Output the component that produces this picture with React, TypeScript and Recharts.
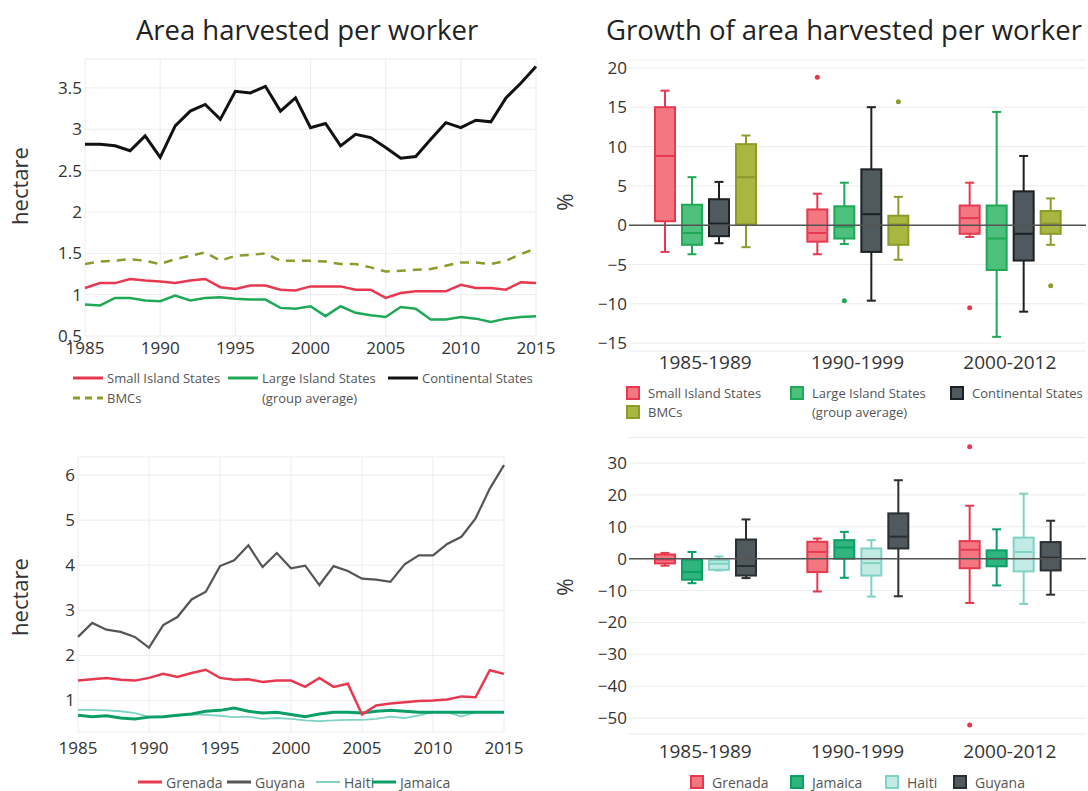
import {
  Bar,
  CartesianGrid,
  ComposedChart,
  Line,
  LineChart,
  ReferenceLine,
  XAxis,
  YAxis,
} from "recharts";

const FONT = "'Open Sans', 'Noto Sans', sans-serif";

// ---- yearly series (hectare per worker) ----
const years = [
  1985, 1986, 1987, 1988, 1989, 1990, 1991, 1992, 1993, 1994, 1995, 1996, 1997, 1998, 1999, 2000,
  2001, 2002, 2003, 2004, 2005, 2006, 2007, 2008, 2009, 2010, 2011, 2012, 2013, 2014, 2015,
];
const yearTicks = [1985, 1990, 1995, 2000, 2005, 2010, 2015];

const smallIsland = [
  1.08, 1.14, 1.14, 1.19, 1.17, 1.16, 1.14, 1.17, 1.19, 1.09, 1.07, 1.11, 1.11, 1.06, 1.05, 1.1,
  1.1, 1.1, 1.06, 1.06, 0.96, 1.02, 1.04, 1.04, 1.04, 1.12, 1.08, 1.08, 1.06, 1.15, 1.14,
];
const largeIsland = [
  0.88, 0.87, 0.96, 0.96, 0.93, 0.92, 0.99, 0.93, 0.96, 0.97, 0.95, 0.94, 0.94, 0.84, 0.83, 0.86,
  0.74, 0.86, 0.78, 0.75, 0.73, 0.85, 0.83, 0.7, 0.7, 0.73, 0.71, 0.67, 0.71, 0.73, 0.74,
];
const continental = [
  2.82, 2.82, 2.8, 2.74, 2.92, 2.66, 3.04, 3.22, 3.3, 3.12, 3.46, 3.44, 3.52, 3.22, 3.38, 3.02,
  3.07, 2.8, 2.94, 2.9, 2.78, 2.65, 2.67, 2.88, 3.08, 3.02, 3.11, 3.09, 3.38, 3.56, 3.76,
];
const bmcs = [
  1.37, 1.4, 1.41, 1.43, 1.41, 1.37, 1.43, 1.47, 1.51, 1.41, 1.47, 1.48, 1.5, 1.41, 1.41, 1.41,
  1.4, 1.37, 1.37, 1.33, 1.28, 1.29, 1.3, 1.31, 1.35, 1.39, 1.39, 1.37, 1.41, 1.49, 1.56,
];

const grenada = [
  1.44, 1.47, 1.5, 1.46, 1.44, 1.5, 1.59, 1.52, 1.61, 1.68, 1.5, 1.46, 1.47, 1.41, 1.44, 1.44,
  1.3, 1.5, 1.3, 1.37, 0.69, 0.89, 0.93, 0.96, 0.99, 1.0, 1.02, 1.09, 1.07, 1.67, 1.59,
];
const guyana = [
  2.41, 2.72, 2.57, 2.52, 2.41, 2.17, 2.67, 2.85, 3.24, 3.41, 3.98, 4.11, 4.44, 3.96, 4.27, 3.93,
  3.99, 3.56, 3.98, 3.87, 3.7, 3.68, 3.63, 4.02, 4.22, 4.22, 4.47, 4.63, 5.04, 5.7, 6.22,
];
const haiti = [
  0.79, 0.79, 0.78, 0.76, 0.72, 0.64, 0.64, 0.67, 0.69, 0.68, 0.66, 0.63, 0.64, 0.59, 0.61, 0.59,
  0.56, 0.54, 0.56, 0.57, 0.57, 0.59, 0.64, 0.61, 0.67, 0.74, 0.74, 0.64, 0.74, 0.74, 0.74,
];
const jamaica = [
  0.67, 0.64, 0.66, 0.61, 0.59, 0.63, 0.64, 0.67, 0.7, 0.76, 0.78, 0.83, 0.76, 0.72, 0.74, 0.69,
  0.64, 0.7, 0.74, 0.74, 0.72, 0.76, 0.78, 0.76, 0.74, 0.74, 0.74, 0.74, 0.74, 0.74, 0.74,
];

// ---- growth boxes: [min, q1, median, q3, max] per period ----
const periods = ["1985-1989", "1990-1999", "2000-2012"];

const smallIslandGrowth = [
  [-3.4, 0.5, 8.8, 15.0, 17.1],
  [-3.7, -2.1, -1.0, 2.0, 4.0],
  [-1.5, -1.1, 0.9, 2.5, 5.4],
];
const smallIslandOutliers = [[], [18.8], [-10.5]];
const largeIslandGrowth = [
  [-3.7, -2.5, -1.0, 2.6, 6.1],
  [-2.4, -1.7, -0.2, 2.4, 5.4],
  [-14.2, -5.7, -1.7, 2.5, 14.4],
];
const largeIslandOutliers = [[], [-9.6], []];
const continentalGrowth = [
  [-2.3, -1.4, 0.2, 3.3, 5.5],
  [-9.6, -3.4, 1.4, 7.1, 15.0],
  [-11.0, -4.5, -1.1, 4.3, 8.8],
];
const continentalOutliers = [[], [], []];
const bmcGrowth = [
  [-2.8, 0.1, 6.1, 10.3, 11.4],
  [-4.4, -2.5, 0.1, 1.2, 3.6],
  [-2.5, -1.1, 0.2, 1.8, 3.4],
];
const bmcOutliers = [[], [15.7], [-7.7]];

const grenadaGrowth = [
  [-2.2, -1.5, -0.3, 1.3, 1.8],
  [-10.3, -4.2, 2.1, 5.3, 6.3],
  [-13.9, -3.0, 2.8, 5.5, 16.6],
];
const grenadaOutliers = [[], [], [35.1, -52.2]];
const jamaicaGrowth = [
  [-7.7, -6.6, -4.2, -0.3, 2.1],
  [-6.0, 0, 3.5, 5.8, 8.4],
  [-8.4, -2.4, 0, 2.6, 9.2],
];
const haitiGrowth = [
  [-3.7, -3.5, -1.6, -0.5, 0.7],
  [-11.9, -5.3, -1.4, 3.2, 5.8],
  [-14.2, -4.0, 2.1, 6.6, 20.4],
];
const guyanaGrowth = [
  [-6.1, -5.3, -2.3, 6.0, 12.3],
  [-11.8, 3.2, 6.9, 14.2, 24.6],
  [-11.3, -3.7, 0.3, 5.2, 11.9],
];
const noOutliers = [[], [], []];

// colours
const RED = "#e8384f";
const RED_FILL = "#f27780";
const GREEN = "#1fa856";
const GREEN_FILL = "#4cc07c";
const BLACK = "#111111";
const SLATE_FILL = "#4f595e";
const OLIVE = "#8d9b2c";
const OLIVE_FILL = "#a9b640";
const JAM = "#0b9e66";
const JAM_FILL = "#2fb57d";
const HAITI = "#7fd3c5";
const HAITI_FILL = "#c3ebe4";
const GUYANA = "#555555";

const regionRows = years.map((year, i) => ({
  year,
  small: smallIsland[i],
  large: largeIsland[i],
  continental: continental[i],
  bmcs: bmcs[i],
}));

const countryRows = years.map((year, i) => ({
  year,
  grenada: grenada[i],
  guyana: guyana[i],
  haiti: haiti[i],
  jamaica: jamaica[i],
}));

const regionGrowthRows = periods.map((period, i) => ({
  period,
  a: smallIslandGrowth[i],
  aOut: smallIslandOutliers[i],
  b: largeIslandGrowth[i],
  bOut: largeIslandOutliers[i],
  c: continentalGrowth[i],
  cOut: continentalOutliers[i],
  d: bmcGrowth[i],
  dOut: bmcOutliers[i],
}));

const countryGrowthRows = periods.map((period, i) => ({
  period,
  a: grenadaGrowth[i],
  aOut: grenadaOutliers[i],
  b: jamaicaGrowth[i],
  bOut: noOutliers[i],
  c: haitiGrowth[i],
  cOut: noOutliers[i],
  d: guyanaGrowth[i],
  dOut: noOutliers[i],
}));

const tickStyle = { fontSize: 17, fill: "#333", fontFamily: FONT };
const periodTick = { fontSize: 19, fill: "#333", fontFamily: FONT };
const minusFmt = (v: number) => (v < 0 ? `\u2212${Math.abs(v)}` : `${v}`);

// box drawn inside the [min, max] range bar that recharts lays out
const BoxShape = (props: any) => {
  const { x, y, width, height, box, outliers, fill, stroke } = props;
  const [min, q1, med, q3, max] = box;
  const top = Math.min(y, y + height);
  const bottom = Math.max(y, y + height);
  const py = (v: number) => top + ((max - v) / (max - min)) * (bottom - top);
  const cx = x + width / 2;
  const cap = width * 0.45;
  return (
    <g>
      <line x1={cx} x2={cx} y1={py(max)} y2={py(q3)} stroke={stroke} strokeWidth={2} />
      <line x1={cx} x2={cx} y1={py(q1)} y2={py(min)} stroke={stroke} strokeWidth={2} />
      <line x1={cx - cap / 2} x2={cx + cap / 2} y1={py(max)} y2={py(max)} stroke={stroke} strokeWidth={2} />
      <line x1={cx - cap / 2} x2={cx + cap / 2} y1={py(min)} y2={py(min)} stroke={stroke} strokeWidth={2} />
      <rect x={x} y={py(q3)} width={width} height={py(q1) - py(q3)} fill={fill} stroke={stroke} strokeWidth={2} />
      <line x1={x + 1} x2={x + width - 1} y1={py(med)} y2={py(med)} stroke={stroke} strokeWidth={2} />
      {outliers.map((o: number, i: number) => (
        <circle key={i} cx={cx} cy={py(o)} r={2.5} fill={stroke} />
      ))}
    </g>
  );
};

const boxBar = (key: string, fill: string, stroke: string) => (
  <Bar
    key={key}
    dataKey={(r: any) => [r[key][0], r[key][4]]}
    isAnimationActive={false}
    shape={(p: any) => (
      <BoxShape {...p} box={p.payload[key]} outliers={p.payload[key + "Out"]} fill={fill} stroke={stroke} />
    )}
  />
);

const LineKey = ({ left, top, color, width = 3, dash, label, len = 30, size = 13 }: any) => (
  <div style={{ position: "absolute", left, top: top - 10, height: 20, display: "flex", alignItems: "center", whiteSpace: "nowrap" }}>
    <svg width={len} height={6}>
      <line x1={0} x2={len} y1={3} y2={3} stroke={color} strokeWidth={width} strokeDasharray={dash} />
    </svg>
    <span style={{ marginLeft: 4, fontSize: size, color: "#555" }}>{label}</span>
  </div>
);

const BoxKey = ({ left, top, color, fill, label, size = 13 }: any) => (
  <div style={{ position: "absolute", left, top: top - 10, height: 20, display: "flex", alignItems: "center", whiteSpace: "nowrap" }}>
    <svg width={14} height={14}>
      <rect x={1} y={1} width={12} height={12} fill={fill} stroke={color} strokeWidth={2} />
    </svg>
    <span style={{ marginLeft: 8, fontSize: size, color: "#555" }}>{label}</span>
  </div>
);

const SubLabel = ({ left, top, label }: any) => (
  <div style={{ position: "absolute", left, top: top - 10, height: 20, lineHeight: "20px", fontSize: 13, color: "#555", whiteSpace: "nowrap" }}>
    {label}
  </div>
);

const AxisTitle = ({ x, y, text, size }: any) => (
  <div
    style={{
      position: "absolute",
      left: x - 60,
      top: y - 15,
      width: 120,
      height: 30,
      lineHeight: "30px",
      textAlign: "center",
      fontSize: size,
      color: "#333",
      transform: "rotate(-90deg)",
    }}
  >
    {text}
  </div>
);

const Title = ({ cx, text }: any) => (
  <div
    style={{
      position: "absolute",
      left: cx - 300,
      top: 12,
      width: 600,
      textAlign: "center",
      fontSize: 27.5,
      color: "#222",
      lineHeight: "36px",
      whiteSpace: "nowrap",
    }}
  >
    {text}
  </div>
);

export default function App() {
  return (
    <div
      style={{
        position: "absolute",
        left: 0,
        top: 0,
        width: 1088,
        height: 791,
        overflow: "hidden",
        background: "#fff",
        fontFamily: FONT,
      }}
    >
      <Title cx={307} text="Area harvested per worker" />
      <Title cx={844} text="Growth of area harvested per worker" />

      {/* top left: regional averages */}
      <div style={{ position: "absolute", left: 0, top: 0 }}>
        <LineChart width={560} height={370} data={regionRows} margin={{ top: 59, right: 24, bottom: 4, left: 35 }}>
          <CartesianGrid stroke="#ececec" strokeWidth={1} />
          <XAxis
            dataKey="year"
            type="number"
            domain={[1985, 2015]}
            ticks={yearTicks}
            axisLine={false}
            tickLine={false}
            tickSize={0}
            tickMargin={6}
            height={30}
            tick={tickStyle}
          />
          <YAxis
            type="number"
            domain={[0.5, 3.85]}
            ticks={[0.5, 1, 1.5, 2, 2.5, 3, 3.5]}
            axisLine={false}
            tickLine={false}
            tickSize={0}
            tickMargin={3}
            width={50}
            tick={tickStyle}
          />
          <Line dataKey="small" stroke={RED} strokeWidth={2.5} dot={false} isAnimationActive={false} />
          <Line dataKey="large" stroke={GREEN} strokeWidth={2.5} dot={false} isAnimationActive={false} />
          <Line dataKey="bmcs" stroke={OLIVE} strokeWidth={2.5} strokeDasharray="9 7" dot={false} isAnimationActive={false} />
          <Line dataKey="continental" stroke={BLACK} strokeWidth={3} dot={false} isAnimationActive={false} />
        </LineChart>
      </div>
      <AxisTitle x={19} y={186} text="hectare" size={22} />
      <LineKey left={73} top={378} color={RED} label="Small Island States" />
      <LineKey left={228} top={378} color={GREEN} label="Large Island States" />
      <SubLabel left={262} top={398} label="(group average)" />
      <LineKey left={388} top={378} color={BLACK} label="Continental States" />
      <LineKey left={73} top={398} color={OLIVE} dash="7 5" label="BMCs" />

      {/* bottom left: countries */}
      <div style={{ position: "absolute", left: 0, top: 420 }}>
        <LineChart width={530} height={371} data={countryRows} margin={{ top: 37, right: 26, bottom: 29, left: 28 }}>
          <CartesianGrid stroke="#ececec" strokeWidth={1} />
          <XAxis
            dataKey="year"
            type="number"
            domain={[1985, 2015]}
            ticks={yearTicks}
            axisLine={false}
            tickLine={false}
            tickSize={0}
            tickMargin={10}
            height={30}
            tick={tickStyle}
          />
          <YAxis
            type="number"
            domain={[0.3, 6.4]}
            ticks={[1, 2, 3, 4, 5, 6]}
            axisLine={false}
            tickLine={false}
            tickSize={0}
            tickMargin={3}
            width={50}
            tick={tickStyle}
          />
          <Line dataKey="haiti" stroke={HAITI} strokeWidth={1.8} dot={false} isAnimationActive={false} />
          <Line dataKey="jamaica" stroke={JAM} strokeWidth={3} dot={false} isAnimationActive={false} />
          <Line dataKey="grenada" stroke={RED} strokeWidth={2.5} dot={false} isAnimationActive={false} />
          <Line dataKey="guyana" stroke={GUYANA} strokeWidth={2.2} dot={false} isAnimationActive={false} />
        </LineChart>
      </div>
      <AxisTitle x={19} y={597} text="hectare" size={22} />
      <LineKey left={138} top={782} color={RED} len={24} size={14} label="Grenada" />
      <LineKey left={227} top={782} color={GUYANA} len={24} size={14} label="Guyana" />
      <LineKey left={316} top={782} color={HAITI} width={2} len={24} size={14} label="Haiti" />
      <LineKey left={372} top={782} color={JAM} len={24} size={14} label="Jamaica" />

      {/* top right: regional growth */}
      <div style={{ position: "absolute", left: 560, top: 0 }}>
        <ComposedChart
          width={528}
          height={380}
          data={regionGrowthRows}
          barSize={20}
          barGap={7}
          margin={{ top: 60, right: 2, bottom: 4, left: 9 }}
        >
          <CartesianGrid stroke="#ececec" vertical={false} />
          <XAxis
            dataKey="period"
            axisLine={false}
            tickLine={false}
            tickSize={0}
            tickMargin={5}
            height={25}
            tick={periodTick}
          />
          <YAxis
            type="number"
            domain={[-16, 21]}
            ticks={[-15, -10, -5, 0, 5, 10, 15, 20]}
            tickFormatter={minusFmt}
            axisLine={false}
            tickLine={false}
            tickSize={0}
            tickMargin={2}
            width={60}
            tick={tickStyle}
          />
          <ReferenceLine y={0} stroke="#555" strokeWidth={1.5} />
          {boxBar("a", RED_FILL, RED)}
          {boxBar("b", GREEN_FILL, GREEN)}
          {boxBar("c", SLATE_FILL, "#1c2125")}
          {boxBar("d", OLIVE_FILL, OLIVE)}
        </ComposedChart>
      </div>
      <AxisTitle x={565} y={202} text="%" size={21} />
      <BoxKey left={626} top={393} color={RED} fill={RED_FILL} label="Small Island States" />
      <BoxKey left={790} top={393} color={GREEN} fill={GREEN_FILL} label="Large Island States" />
      <SubLabel left={812} top={412} label="(group average)" />
      <BoxKey left={950} top={393} color="#1c2125" fill={SLATE_FILL} label="Continental States" />
      <BoxKey left={626} top={412} color={OLIVE} fill={OLIVE_FILL} label="BMCs" />

      {/* bottom right: country growth */}
      <div style={{ position: "absolute", left: 560, top: 420 }}>
        <ComposedChart
          width={528}
          height={371}
          data={countryGrowthRows}
          barSize={20}
          barGap={7}
          margin={{ top: 17.5, right: 2, bottom: 17, left: 9 }}
        >
          <CartesianGrid stroke="#ececec" vertical={false} />
          <XAxis
            dataKey="period"
            axisLine={false}
            tickLine={false}
            tickSize={0}
            tickMargin={11}
            height={40}
            tick={periodTick}
          />
          <YAxis
            type="number"
            domain={[-55, 38]}
            ticks={[-50, -40, -30, -20, -10, 0, 10, 20, 30]}
            tickFormatter={minusFmt}
            axisLine={false}
            tickLine={false}
            tickSize={0}
            tickMargin={2}
            width={60}
            tick={tickStyle}
          />
          <ReferenceLine y={0} stroke="#555" strokeWidth={1.5} />
          {boxBar("a", RED_FILL, RED)}
          {boxBar("b", JAM_FILL, JAM)}
          {boxBar("c", HAITI_FILL, HAITI)}
          {boxBar("d", SLATE_FILL, "#2a2f32")}
        </ComposedChart>
      </div>
      <AxisTitle x={565} y={587} text="%" size={21} />
      <BoxKey left={690} top={782} color={RED} fill={RED_FILL} size={14} label="Grenada" />
      <BoxKey left={790} top={782} color={JAM} fill={JAM_FILL} size={14} label="Jamaica" />
      <BoxKey left={885} top={782} color={HAITI} fill={HAITI_FILL} size={14} label="Haiti" />
      <BoxKey left={953} top={782} color="#2a2f32" fill={SLATE_FILL} size={14} label="Guyana" />
    </div>
  );
}
